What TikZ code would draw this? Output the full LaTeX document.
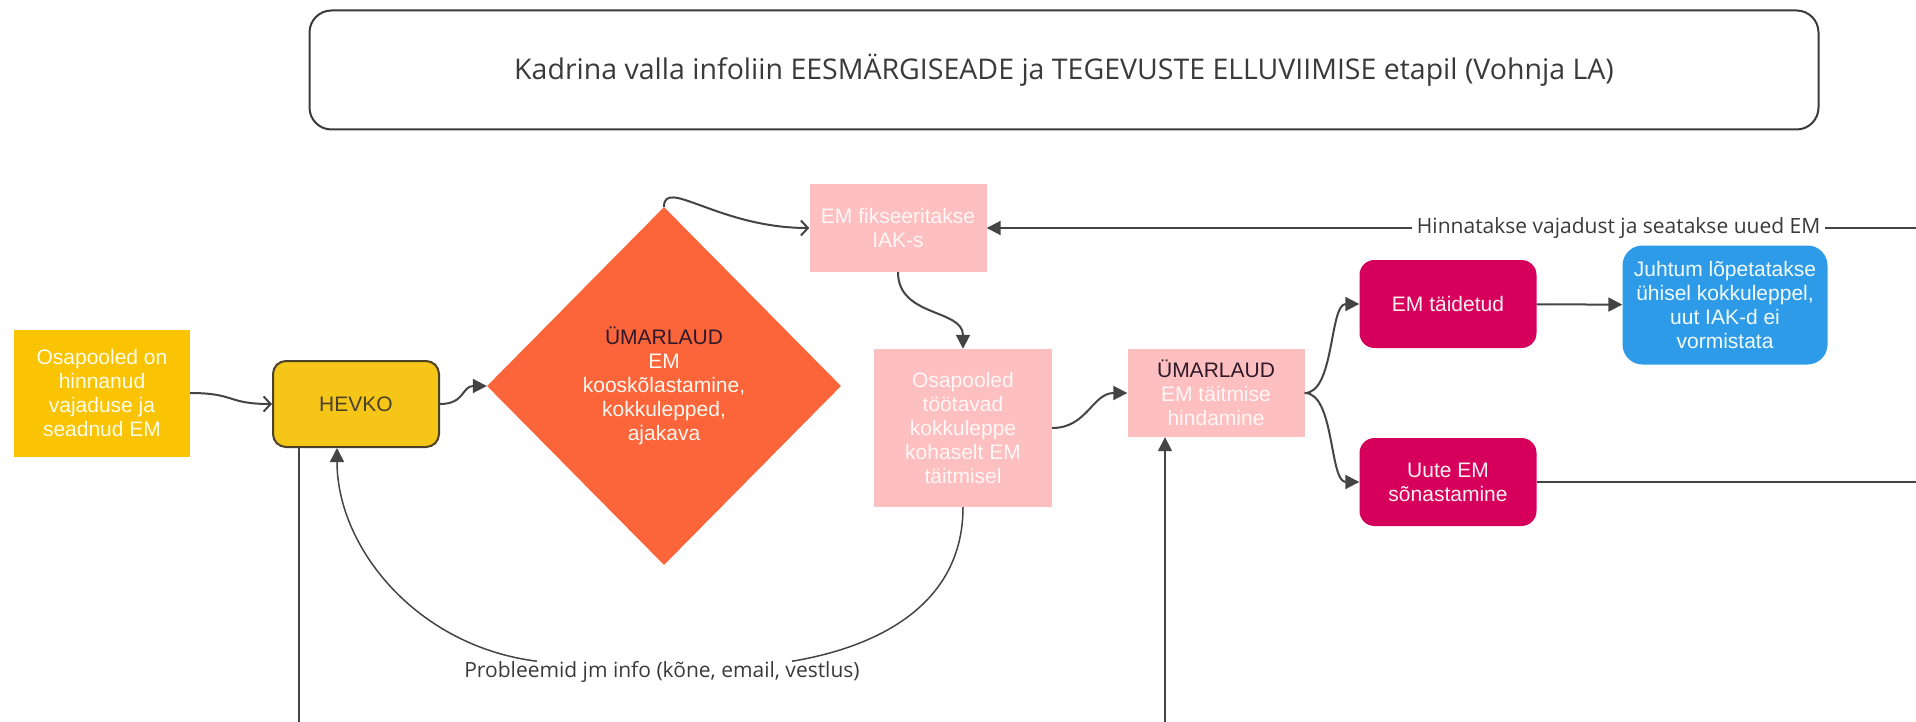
\documentclass[tikz,border=0pt]{standalone}
\usepackage{fontspec}
\setmainfont{Liberation Sans}
\newfontfamily\lblfont{Open Sans}
\usetikzlibrary{shapes.geometric,arrows.meta,calc}
\definecolor{linec}{HTML}{444444}
\definecolor{lblc}{HTML}{3A3A3A}
\definecolor{yellowc}{HTML}{FAC303}
\definecolor{hevkoc}{HTML}{F5C518}
\definecolor{hevkoline}{HTML}{4A4128}
\definecolor{orangec}{HTML}{FC643A}
\definecolor{pinkc}{HTML}{FDBFBF}
\definecolor{magc}{HTML}{D6005C}
\definecolor{bluec}{HTML}{2E9BE9}
\definecolor{darktxt}{HTML}{2E1A2A}

\begin{document}
\begin{tikzpicture}[x=1pt,y=-1pt,>={Triangle[length=14pt,width=14pt]},
  every node/.style={font=\fontsize{21}{24}\selectfont, align=center, inner sep=0pt},
  conn/.style={draw=linec, line width=2pt},
  thinconn/.style={draw=linec, line width=1.5pt},
  openhead/.style={-{Straight Barb[length=7pt,width=15pt]}},
  yellowbox/.style={fill=yellowc, text=yellow!8, minimum width=176pt, minimum height=127pt},
  hevkobox/.style={fill=hevkoc, draw=hevkoline, line width=2pt, rounded corners=13pt,
    text=hevkoline, minimum width=166pt, minimum height=86pt},
  decision/.style={diamond, fill=orangec, text=orange!6, minimum width=354pt, minimum height=358pt},
  pinkbox/.style={fill=pinkc, text=red!3, minimum width=177pt, minimum height=88pt},
  magbox/.style={fill=magc, text=pink!25, rounded corners=15pt, minimum width=177pt, minimum height=88pt},
  bluebox/.style={fill=bluec, text=cyan!5, rounded corners=20pt, minimum width=205pt, minimum height=119pt},
  lbl/.style={font=\lblfont\fontsize{21}{24}\selectfont, text=lblc}]

\useasboundingbox (0,0) rectangle (1916,722);

\node[draw=lblc, line width=2pt, rounded corners=22pt, minimum width=1509pt, minimum height=119pt,
  font=\lblfont\fontsize{28.5}{32}\selectfont, text=lblc] (title) at (1064,70)
  {Kadrina valla infoliin EESMÄRGISEADE ja TEGEVUSTE ELLUVIIMISE etapil (Vohnja LA)};

\node[yellowbox] (osapool) at (102,393) {Osapooled on\\hinnanud\\vajaduse ja\\seadnud EM};
\node[hevkobox] (hevko) at (356,404) {HEVKO};
\node[decision] (dia) at (664,386)
  {{\color{darktxt}ÜMARLAUD}\\EM\\kooskõlastamine,\\kokkulepped,\\ajakava};
\node[pinkbox] (emfiks) at (898,228) {EM fikseeritakse\\IAK-s};
\node[pinkbox, minimum width=178pt, minimum height=158pt] (osap2) at (963,428)
  {Osapooled\\töötavad\\kokkuleppe\\kohaselt EM\\täitmisel};
\node[pinkbox] (umar2) at (1216,393) {{\color{darktxt}ÜMARLAUD}\\EM täitmise\\hindamine};
\node[magbox] (emtaid) at (1448,304) {EM täidetud};
\node[magbox] (uute) at (1448,482) {Uute EM\\sõnastamine};
\node[bluebox] (juhtum) at (1725,305) {Juhtum lõpetatakse\\ühisel kokkuleppel,\\uut IAK-d ei\\vormistata};
\node[lbl] (probl) at (662,672) {Probleemid jm info (kõne, email, vestlus)};

\coordinate (edgeR1) at (1916,228);
\coordinate (edgeR2) at (1916,482);
\coordinate (botL) at (299,722);
\coordinate (botR) at (1165,722);

\draw[conn, openhead] (osapool.east) .. controls +(45,0) and +(-45,0) .. (hevko.west);
\draw[conn, ->] (hevko.east) .. controls +(25,0) and +(-25,0) .. (dia.west);
\draw[conn, openhead] (dia.north) .. controls +(0,-30) and +(-90,0) .. (emfiks.west);
\draw[conn, ->] (emfiks.south) .. controls +(0,45) and +(0,-40) .. (osap2.north);
\draw[conn, ->] (osap2.east) .. controls +(35,0) and +(-35,0) .. (umar2.west);
\draw[conn, ->] (umar2.east) .. controls +(30,0) and +(-30,0) .. (emtaid.west);
\draw[conn, ->] (umar2.east) .. controls +(30,0) and +(-30,0) .. (uute.west);
\draw[conn, ->] (emtaid) -- (juhtum);
\draw[conn, ->] (edgeR1) -- node[pos=0.32, lbl, fill=white, inner xsep=5pt, inner ysep=2pt]
  {Hinnatakse vajadust ja seatakse uued EM} (emfiks.east);
\draw[conn] (uute.east) -- (edgeR2);

\draw[thinconn] (hevko.south -| botL) -- (botL);
\draw[thinconn, ->] (botR) -- (umar2.south -| botR);

\draw[thinconn] (osap2.south) .. controls +(0,95) and +(90,-15) .. ($(probl.north)+(130,0)$);
\draw[thinconn, ->] ($(probl.north)+(-125,0)$) .. controls +(-120,-15) and +(0,100)
  .. ([xshift=-19pt]hevko.south);

\end{tikzpicture}
\end{document}
